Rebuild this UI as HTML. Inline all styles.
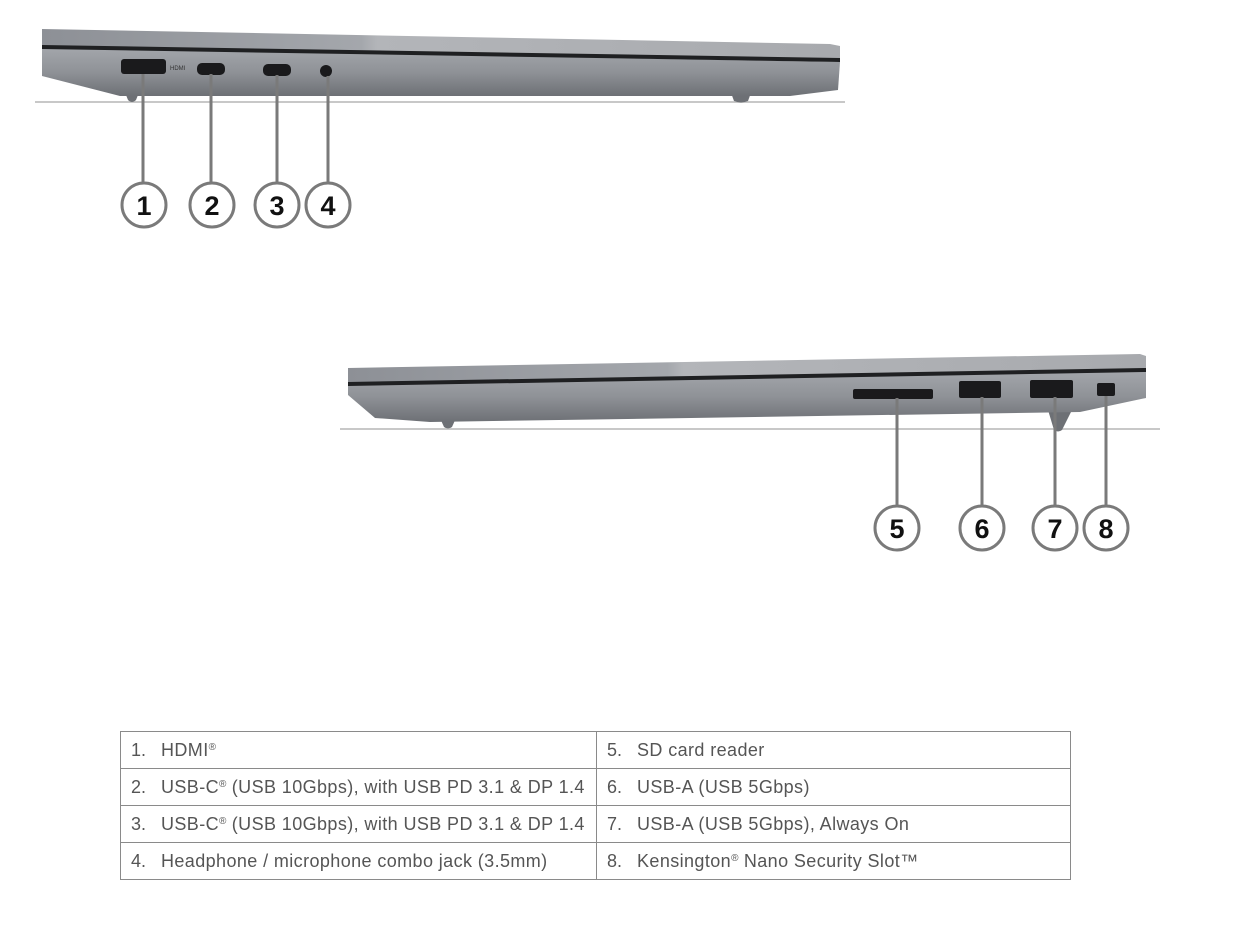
<!DOCTYPE html>
<html><head><meta charset="utf-8"><style>
html,body{margin:0;padding:0;background:#fff;}
body{width:1242px;height:925px;position:relative;overflow:hidden;font-family:"Liberation Sans",sans-serif;}
table{position:absolute;left:120px;top:731px;border-collapse:collapse;table-layout:fixed;width:950px;}
td{border:1px solid #8a8a8a;height:37px;padding:0 0 0 10px;font-size:18px;letter-spacing:0.4px;color:#555;white-space:nowrap;overflow:hidden;box-sizing:border-box;}
td.a{width:476px;} td.b{width:474px;}
td span{display:inline-block;width:30px;letter-spacing:0;}
sup{font-size:10px;vertical-align:6px;letter-spacing:0;}
</style></head><body>
<svg width="1242" height="925" style="position:absolute;left:0;top:0">
<defs>
<linearGradient id="lid" x1="0" y1="0" x2="1" y2="0"><stop offset="0" stop-color="#8d9096"/><stop offset="0.4" stop-color="#a4a7ac"/><stop offset="0.42" stop-color="#b3b5b9"/><stop offset="1" stop-color="#a8aaae"/></linearGradient>
<linearGradient id="base" x1="0" y1="0" x2="0" y2="1"><stop offset="0" stop-color="#a3a6ab"/><stop offset="0.5" stop-color="#8f9297"/><stop offset="1" stop-color="#6d7075"/></linearGradient>
</defs>
<line x1="35" y1="102" x2="845" y2="102" stroke="#c8c8c8" stroke-width="2"/>
<path d="M124 90 L128 100 Q132 104 136 100 L140 90Z" fill="#6d7075"/>
<path d="M730 90 L734 101 Q741 104 748 101 L752 90Z" fill="#6d7075"/>
<polygon points="42,48 840,62 838,90 790,96 120,96 42,76" fill="url(#base)"/>
<polygon points="42,29 830,44 840,46 840,60 42,46" fill="url(#lid)"/>
<polygon points="42,45 840,58 840,62 42,49" fill="#1f2022"/>
<rect x="121" y="59" width="45" height="15" rx="3" fill="#1a1a1c"/>
<rect x="197" y="63" width="28" height="12" rx="5" fill="#1a1a1c"/>
<rect x="263" y="64" width="28" height="12" rx="5" fill="#1a1a1c"/>
<circle cx="326" cy="71" r="6" fill="#1a1a1c"/>
<text x="170" y="70" font-size="6" fill="#333">HDMI</text>
<g stroke="#7a7a7a" stroke-width="3" fill="none">
<line x1="143" y1="74" x2="143" y2="182"/><line x1="211" y1="74" x2="211" y2="182"/>
<line x1="277" y1="75" x2="277" y2="182"/><line x1="328" y1="76" x2="328" y2="182"/>
<circle cx="144" cy="205" r="22" fill="#fff"/><circle cx="212" cy="205" r="22" fill="#fff"/>
<circle cx="277" cy="205" r="22" fill="#fff"/><circle cx="328" cy="205" r="22" fill="#fff"/>
</g>
<g font-size="27" font-weight="bold" fill="#111" text-anchor="middle">
<text x="144" y="215">1</text><text x="212" y="215">2</text><text x="277" y="215">3</text><text x="328" y="215">4</text>
</g>
<line x1="340" y1="429" x2="1160" y2="429" stroke="#c8c8c8" stroke-width="2"/>
<path d="M440 418 L444 427 Q448 430 452 427 L456 418Z" fill="#6d7075"/>
<path d="M1048 410 L1054 430 Q1058 433 1062 430 L1072 410Z" fill="#6d7075"/>
<polygon points="348,385 1146,371 1146,398 1080,412 430,422 375,418 348,395" fill="url(#base)"/>
<polygon points="348,368 1140,354 1146,356 1146,369 348,383" fill="url(#lid)"/>
<polygon points="348,382 1146,368 1146,372 348,386" fill="#1f2022"/>
<rect x="853" y="389" width="80" height="10" rx="2" fill="#1a1a1c"/>
<rect x="959" y="381" width="42" height="17" rx="2" fill="#1a1a1c"/>
<rect x="1030" y="380" width="43" height="18" rx="2" fill="#1a1a1c"/>
<rect x="1097" y="383" width="18" height="13" rx="2" fill="#1a1a1c"/>
<g stroke="#7a7a7a" stroke-width="3" fill="none">
<line x1="897" y1="398" x2="897" y2="506"/><line x1="982" y1="397" x2="982" y2="506"/>
<line x1="1055" y1="397" x2="1055" y2="506"/><line x1="1106" y1="396" x2="1106" y2="506"/>
<circle cx="897" cy="528" r="22" fill="#fff"/><circle cx="982" cy="528" r="22" fill="#fff"/>
<circle cx="1055" cy="528" r="22" fill="#fff"/><circle cx="1106" cy="528" r="22" fill="#fff"/>
</g>
<g font-size="27" font-weight="bold" fill="#111" text-anchor="middle">
<text x="897" y="538">5</text><text x="982" y="538">6</text><text x="1055" y="538">7</text><text x="1106" y="538">8</text>
</g>
</svg>
<table>
<tr><td class="a"><span>1.</span>HDMI<sup>®</sup></td><td class="b"><span>5.</span>SD card reader</td></tr>
<tr><td class="a"><span>2.</span>USB-C<sup>®</sup> (USB 10Gbps), with USB PD 3.1 &amp; DP 1.4</td><td class="b"><span>6.</span>USB-A (USB 5Gbps)</td></tr>
<tr><td class="a"><span>3.</span>USB-C<sup>®</sup> (USB 10Gbps), with USB PD 3.1 &amp; DP 1.4</td><td class="b"><span>7.</span>USB-A (USB 5Gbps), Always On</td></tr>
<tr><td class="a"><span>4.</span>Headphone / microphone combo jack (3.5mm)</td><td class="b"><span>8.</span>Kensington<sup>®</sup> Nano Security Slot™</td></tr>
</table>
</body></html>
